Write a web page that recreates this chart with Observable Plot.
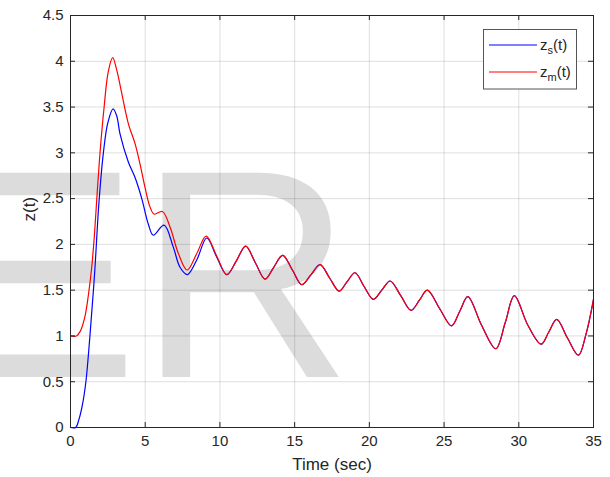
<!DOCTYPE html>
<html><head><meta charset="utf-8">
<script src="https://cdn.jsdelivr.net/npm/d3@7"></script>
<script src="https://cdn.jsdelivr.net/npm/@observablehq/plot@0.6"></script>
<style>body{margin:0;background:#fff;}</style>
</head><body><div id="chart"></div>
<script>
// z_s(t) head (before the two series merge)
const tS = [0, 0.35, 0.55, 0.8, 1.03, 1.3, 1.62, 1.9, 2.2, 2.5, 2.85, 3.1, 3.31, 3.87, 4.32, 4.77, 5.21, 5.54, 6.26, 6.88, 7.33, 7.82, 8.45, 9.12, 9.79];
const zS = [0, 0, 0.08, 0.25, 0.5, 1.0, 1.7, 2.45, 3.0, 3.33, 3.48, 3.4, 3.21, 2.90, 2.73, 2.50, 2.22, 2.10, 2.21, 1.97, 1.75, 1.67, 1.83, 2.07, 1.86];
// z_m(t) head
const tM = [0, 0.4, 0.65, 0.95, 1.2, 1.42, 1.6, 1.8, 2.0, 2.25, 2.52, 2.82, 3.1, 3.43, 3.87, 4.32, 4.65, 4.99, 5.32, 5.6, 6.15, 6.66, 7.22, 7.8, 8.45, 9.08, 9.79];
const zM = [1, 1, 1.05, 1.2, 1.45, 1.75, 2.1, 2.6, 3.05, 3.5, 3.88, 4.04, 3.9, 3.65, 3.32, 3.10, 2.88, 2.62, 2.41, 2.33, 2.36, 2.19, 1.90, 1.72, 1.9, 2.09, 1.87];
// shared tail (both series coincide)
const tTail = [10.46, 11.1, 11.72, 12.37, 13.02, 13.6, 14.2, 14.85, 15.47, 16.1, 16.7, 17.35, 17.98, 18.5, 19.04, 19.65, 20.27, 20.83, 21.39, 22.1, 22.79, 23.35, 23.88, 24.7, 25.5, 26.05, 26.59, 27.5, 28.46, 29.1, 29.7, 30.6, 31.49, 32.0, 32.54, 33.25, 33.99, 34.5, 35];
const zTail = [1.67, 1.82, 1.98, 1.80, 1.62, 1.75, 1.88, 1.72, 1.56, 1.67, 1.78, 1.63, 1.49, 1.59, 1.69, 1.54, 1.40, 1.50, 1.60, 1.44, 1.28, 1.39, 1.50, 1.30, 1.11, 1.27, 1.43, 1.12, 0.86, 1.15, 1.44, 1.12, 0.91, 1.04, 1.18, 0.98, 0.79, 1.02, 1.40];

const xTicks = [0, 5, 10, 15, 20, 25, 30, 35];
const yTicks = [0, 0.5, 1, 1.5, 2, 2.5, 3, 3.5, 4, 4.5];
const xLabel = "Time (sec)";
const yLabel = "z(t)";
const watermark = "ER";

const toRows = (ts, zs) => ts.map((t, i) => ({t, z: zs[i]}));
const dataS = toRows(tS, zS).concat(toRows(tTail, zTail));
const dataM = toRows(tM, zM).concat(toRows(tTail, zTail));

const ink = "#262626";
const font = "'Liberation Sans', Arial, Helvetica, sans-serif";

const chart = Plot.plot({
  width: 610, height: 477,
  marginLeft: 70, marginRight: 17, marginTop: 15, marginBottom: 50,
  style: {fontFamily: font, fontSize: "15px", color: ink, background: "white"},
  x: {domain: [0, 35]},
  y: {domain: [0, 4.5]},
  marks: [
    Plot.gridX(xTicks, {stroke: ink, strokeOpacity: 0.15}),
    Plot.gridY(yTicks, {stroke: ink, strokeOpacity: 0.15}),
    Plot.lineY(dataS, {x: "t", y: "z", stroke: "#0000ff", strokeWidth: 1.2, curve: "catmull-rom"}),
    Plot.lineY(dataM, {x: "t", y: "z", stroke: "#ff0000", strokeWidth: 1.2, curve: "catmull-rom"}),
    Plot.frame({stroke: ink}),
    Plot.tickX(xTicks, {x: d => d, stroke: ink, insetTop: 407}),
    Plot.tickX(xTicks, {x: d => d, stroke: ink, insetBottom: 407}),
    Plot.tickY(yTicks, {y: d => d, stroke: ink, insetRight: 518}),
    Plot.tickY(yTicks, {y: d => d, stroke: ink, insetLeft: 518}),
    Plot.axisX(xTicks, {tickSize: 0, tickPadding: 8, label: null, fontSize: 15, tickFormat: d => String(d)}),
    Plot.axisY(yTicks, {tickSize: 0, tickPadding: 7, label: null, fontSize: 15, tickFormat: d => String(d)}),
    Plot.text([xLabel], {frameAnchor: "bottom", dy: 42, fontSize: 17, fill: ink}),
    Plot.text([yLabel], {frameAnchor: "left", dx: -41, rotate: -90, fontSize: 17, fill: ink})
  ]
});

const svg = d3.select(chart);
// watermark behind everything
svg.insert("text", "g")
  .attr("x", -60).attr("y", 377)
  .attr("text-anchor", "start")
  .attr("font-family", font).attr("font-size", 297)
  .attr("fill", "#dcdcdc")
  .text(watermark);

// legend
const lg = svg.append("g").attr("font-family", font).attr("font-size", 15).attr("fill", ink).attr("text-anchor", "start");
lg.append("rect").attr("x", 483.5).attr("y", 29.5).attr("width", 93).attr("height", 59.5)
  .attr("fill", "white").attr("stroke", "#555").attr("stroke-width", 1);
const items = [{sub: "s", color: "#0000ff", y: 45}, {sub: "m", color: "#ff0000", y: 72}];
items.forEach(it => {
  lg.append("line").attr("x1", 489).attr("x2", 537).attr("y1", it.y).attr("y2", it.y)
    .attr("stroke", it.color).attr("stroke-width", 1);
  const tx = lg.append("text").attr("x", 540).attr("y", it.y + 5);
  tx.append("tspan").text("z");
  tx.append("tspan").attr("font-size", 11).attr("dy", 4).text(it.sub);
  tx.append("tspan").attr("dy", -4).text("(t)");
});

document.getElementById("chart").appendChild(chart);
</script>
</body></html>
